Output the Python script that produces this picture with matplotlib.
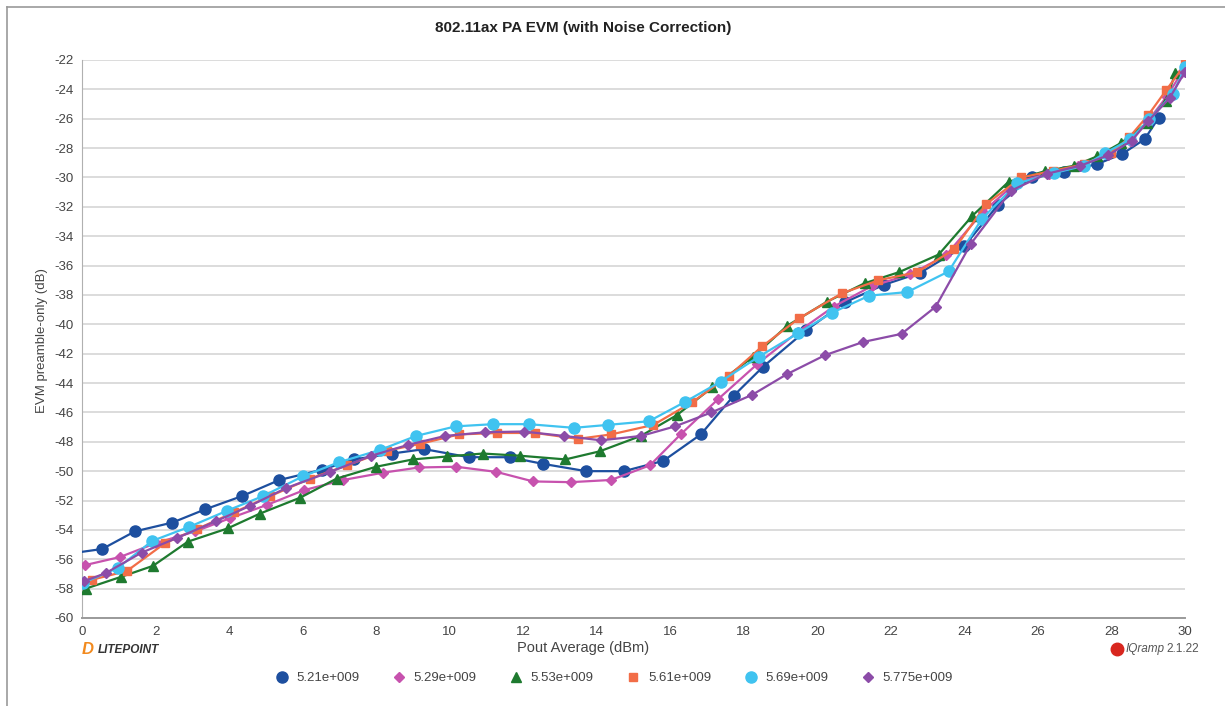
import numpy as np
import matplotlib
matplotlib.use("Agg")
import matplotlib.pyplot as plt
from matplotlib.lines import Line2D

plt.rcParams['font.family'] = ['Liberation Sans', 'DejaVu Sans']
plt.rcParams['axes.unicode_minus'] = False

# EVM sweeps, one per carrier frequency (Hz)
labels = ["5.21e+009", "5.29e+009", "5.53e+009", "5.61e+009", "5.69e+009", "5.775e+009"]

x_521 = [-0.3, 0.55, 1.44, 2.46, 3.35, 4.35, 5.37, 6.53, 7.4, 8.43, 9.31, 10.52, 11.63, 12.53,
         13.71, 14.74, 15.81, 16.83, 17.73, 18.52, 19.7, 20.75, 21.82, 22.79, 23.99, 24.92,
         25.84, 26.7, 27.6, 28.29, 28.9, 29.28]
y_521 = [-55.6, -55.3, -54.1, -53.5, -52.6, -51.7, -50.6, -49.9, -49.2, -48.8, -48.5, -49.05,
         -49.05, -49.5, -50.0, -50.0, -49.3, -47.5, -44.85, -42.9, -40.4, -38.5, -37.3, -36.5,
         -34.7, -31.85, -29.96, -29.6, -29.1, -28.4, -27.4, -25.95]

x_529 = [0.08, 1.03, 2.01, 3.08, 4.03, 5.03, 6.03, 7.11, 8.2, 9.16, 10.18, 11.27, 12.27, 13.29,
         14.39, 15.45, 16.28, 17.3, 18.37, 19.48, 20.44, 21.48, 22.52, 23.5, 24.5, 25.43, 26.3,
         27.1, 27.94, 28.5, 28.98, 29.5, 29.9]
y_529 = [-56.4, -55.85, -54.9, -54.1, -53.2, -52.3, -51.3, -50.6, -50.1, -49.75, -49.7, -50.05,
         -50.7, -50.75, -50.6, -49.6, -47.5, -45.1, -42.7, -40.5, -38.8, -37.4, -36.6, -35.3,
         -32.35, -30.3, -29.75, -29.25, -28.4, -27.5, -26.2, -24.5, -22.9]

x_553 = [0.1, 1.06, 1.93, 2.88, 3.96, 4.83, 5.94, 6.93, 8.0, 9.0, 9.93, 10.9, 11.92, 13.15,
         14.08, 15.2, 16.17, 17.14, 18.26, 19.18, 20.27, 21.29, 22.22, 23.3, 24.22, 25.2, 26.19,
         26.99, 27.62, 28.26, 28.96, 29.47, 29.74]
y_553 = [-58.0, -57.2, -56.45, -54.8, -53.9, -52.9, -51.8, -50.5, -49.7, -49.2, -49.0, -48.8,
         -48.95, -49.2, -48.65, -47.6, -46.2, -44.3, -42.2, -40.1, -38.45, -37.2, -36.45, -35.25,
         -32.6, -30.3, -29.57, -29.2, -28.55, -27.65, -26.3, -24.8, -22.9]

x_561 = [0.26, 1.22, 2.26, 3.12, 4.14, 5.12, 6.21, 7.21, 8.3, 9.18, 10.25, 11.29, 12.33, 13.49,
         14.39, 15.54, 16.6, 17.6, 18.5, 19.5, 20.66, 21.66, 22.72, 23.72, 24.6, 25.55, 26.4,
         27.25, 28.0, 28.49, 29.0, 29.49, 30.0]
y_561 = [-57.4, -56.8, -54.9, -53.95, -52.8, -51.7, -50.5, -49.6, -48.6, -48.15, -47.5, -47.4,
         -47.4, -47.8, -47.5, -46.85, -45.3, -43.5, -41.5, -39.6, -37.9, -37.0, -36.45, -34.9,
         -31.8, -30.0, -29.55, -29.1, -28.35, -27.25, -25.75, -24.05, -22.3]

x_569 = [0.04, 0.97, 1.91, 2.91, 3.94, 4.92, 6.01, 6.98, 8.11, 9.09, 10.16, 11.18, 12.15, 13.38,
         14.3, 15.42, 16.39, 17.37, 18.41, 19.48, 20.41, 21.41, 22.45, 23.57, 24.48, 25.44,
         26.43, 27.26, 27.82, 28.51, 29.03, 29.67, 30.0]
y_569 = [-57.6, -56.6, -54.75, -53.8, -52.7, -51.7, -50.35, -49.4, -48.55, -47.6, -46.95, -46.8,
         -46.8, -47.05, -46.85, -46.6, -45.3, -43.9, -42.2, -40.6, -39.2, -38.05, -37.8, -36.4,
         -32.8, -30.4, -29.7, -29.2, -28.35, -27.4, -26.05, -24.3, -22.5]

x_5775 = [0.05, 0.64, 1.62, 2.58, 3.65, 4.58, 5.55, 6.75, 7.87, 8.88, 9.88, 10.97, 12.01, 13.1,
          14.12, 15.21, 16.13, 17.12, 18.23, 19.17, 20.21, 21.25, 22.29, 23.22, 24.18, 25.27,
          26.24, 27.15, 27.9, 28.55, 29.0, 29.58, 30.0]
y_5775 = [-57.5, -56.95, -55.55, -54.55, -53.4, -52.35, -51.15, -50.05, -48.95, -48.2, -47.6,
          -47.35, -47.3, -47.6, -47.9, -47.6, -46.95, -46.0, -44.8, -43.4, -42.1, -41.2, -40.65,
          -38.8, -34.5, -30.9, -29.75, -29.2, -28.5, -27.5, -26.15, -24.6, -22.8]

xs = [x_521, x_529, x_553, x_561, x_569, x_5775]
ys = [y_521, y_529, y_553, y_561, y_569, y_5775]

colors = ["#1d4f9f", "#c752ae", "#1e7a2f", "#f26d47", "#40c3f0", "#8c4ca8"]
markers = ["o", "D", "^", "s", "o", "D"]
msizes = [8, 5.5, 6.5, 6, 8, 5.5]

fig = plt.figure(figsize=(12.25, 7.06), dpi=100)
W, H = 1225.0, 706.0
ax = fig.add_axes([82 / W, 1 - 618 / H, (1185 - 82) / W, (618 - 60) / H])

for x, y, c, m, s, lab in zip(xs, ys, colors, markers, msizes, labels):
    ax.plot(x, y, color=c, marker=m, ms=s, lw=1.6, mec=c, label=lab, zorder=3)

ax.set_xlim(0, 30)
ax.set_ylim(-60, -22)
ax.set_xticks(np.arange(0, 31, 2))
ax.set_yticks(np.arange(-60, -21, 2))
ax.yaxis.grid(True, color="#d6d6d6", lw=1.2)
ax.set_axisbelow(True)
ax.tick_params(length=0, labelsize=9.5, colors="#444444", pad=6)
for side in ["top", "right"]:
    ax.spines[side].set_visible(False)
ax.spines["left"].set_color("#b0b0b0")
ax.spines["bottom"].set_color("#9a9a9a")
ax.spines["bottom"].set_linewidth(1.4)

fig.text(583 / W, 1 - 28 / H, "802.11ax PA EVM (with Noise Correction)", ha="center",
         va="center", fontsize=11, fontweight="bold", color="#222222")
fig.text(42 / W, 1 - 341 / H, "EVM preamble-only (dB)", rotation=90, ha="center",
         va="center", fontsize=9.5, color="#444444")
fig.text(583 / W, 1 - 648 / H, "Pout Average (dBm)", ha="center", va="center",
         fontsize=10.5, color="#444444")

# vendor marks along the bottom
fig.text(82 / W, 1 - 650 / H, "D", ha="left", va="center", fontsize=12,
         fontweight="bold", fontstyle="italic", color="#f28a1e")
fig.text(98 / W, 1 - 650 / H, "LITEPOINT", ha="left", va="center", fontsize=8.5,
         fontweight="bold", fontstyle="italic", color="#333333")
fig.add_artist(Line2D([1117 / W], [1 - 649 / H], marker="o", ms=9, color="#d8261e",
                      transform=fig.transFigure))
fig.text(1126 / W, 1 - 649 / H, "IQramp", ha="left", va="center", fontsize=8.5,
         fontstyle="italic", color="#555555")
fig.text(1166 / W, 1 - 649 / H, "2.1.22", ha="left", va="center", fontsize=8.5,
         color="#555555")

handles, labs = ax.get_legend_handles_labels()
fig.legend(handles, labs, loc="center", bbox_to_anchor=(614 / W, 1 - 678 / H), ncol=6,
           frameon=False, fontsize=9.5, handlelength=1.0, handletextpad=0.6,
           columnspacing=2.5, labelcolor="#444444")
for h in fig.legends[0].legend_handles:
    h.set_linestyle("none")

# page frame
fig.add_artist(Line2D([7 / W, 1], [1 - 7 / H, 1 - 7 / H], color="#9a9a9a", lw=1.2,
                      transform=fig.transFigure))
fig.add_artist(Line2D([7 / W, 7 / W], [0, 1 - 7 / H], color="#9a9a9a", lw=1.2,
                      transform=fig.transFigure))

fig.savefig("out.png", dpi=100)
